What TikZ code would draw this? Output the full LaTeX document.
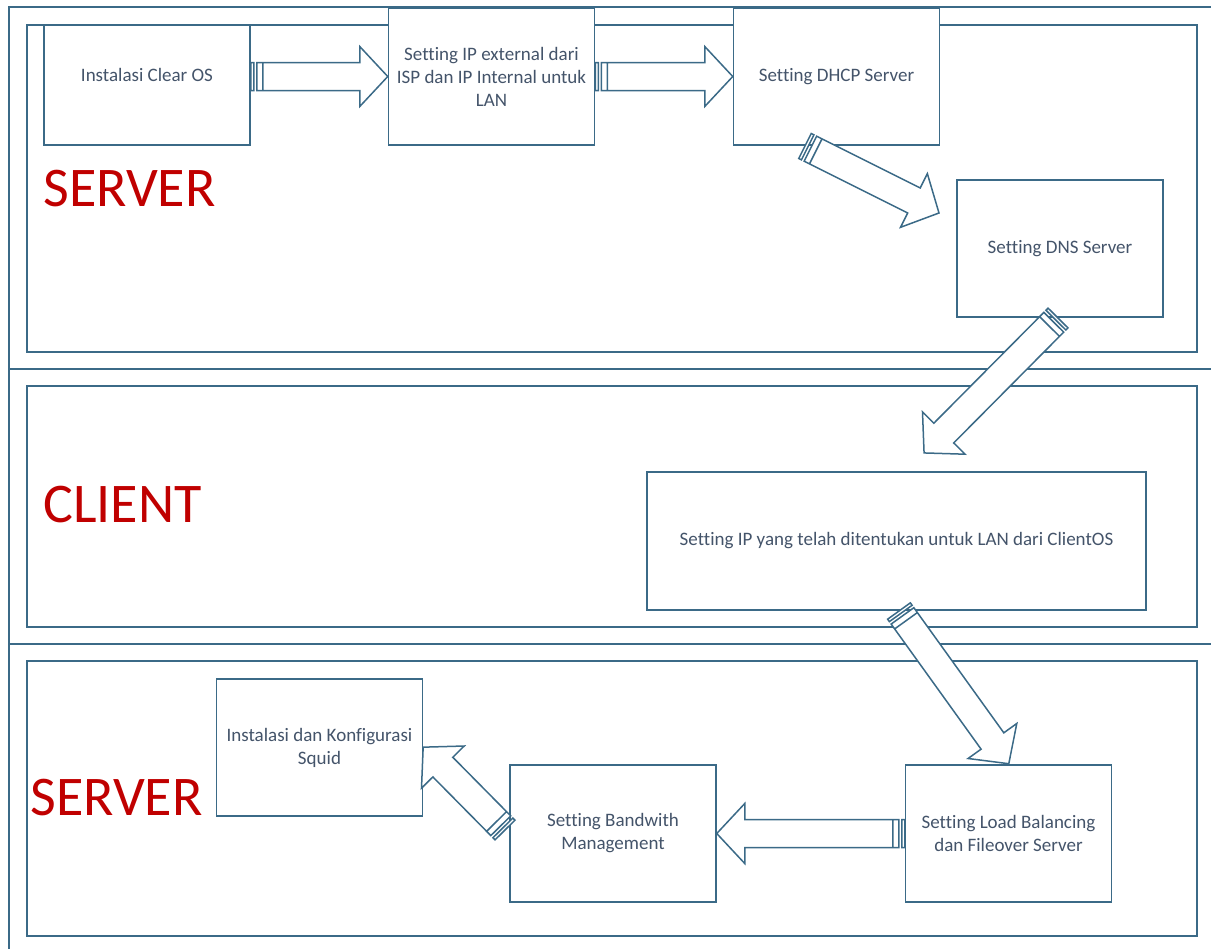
\documentclass[tikz,border=0pt]{standalone}
\usepackage{fontspec}
\setmainfont{Carlito}[Ligatures={NoCommon,NoContextual,NoRare}]
\usepackage{tikz}
\usetikzlibrary{calc, positioning}
\definecolor{lineColor}{HTML}{3B6A87}
\definecolor{textColor}{HTML}{44546A}
\definecolor{laneColor}{HTML}{C00000}

\tikzset{
  stepbox/.style={rectangle, draw=lineColor, line width=0.75pt, fill=white, text=textColor,
    align=center, font=\fontsize{9.5}{11.5}\selectfont, inner sep=2pt,
    minimum width=103pt, minimum height=68.5pt},
  laneframe/.style={draw=lineColor, line width=0.9pt},
  lanelabel/.style={text=laneColor, font=\fontsize{28}{32}\selectfont, anchor=west, inner sep=0pt},
  blockarrow/.style={draw=lineColor, line width=0.75pt, fill=white, line join=miter}
}

% striped block arrow from #1 to #2
\newcommand{\stripedarrow}[2]{%
  \draw[blockarrow] let \p1=($(#2)-(#1)$), \n1={atan2(\y1,\x1)}, \n2={veclen(\x1,\y1)} in
    [shift={(#1)}, rotate=\n1]
    (0pt,-7pt) rectangle (1.5pt,7pt)
    (3pt,-7pt) rectangle (6pt,7pt)
    (6pt,-7pt) -- ({\n2*1pt-14pt},-7pt) -- ({\n2*1pt-14pt},-15pt) -- ({\n2*1pt},0pt)
    -- ({\n2*1pt-14pt},15pt) -- ({\n2*1pt-14pt},7pt) -- (6pt,7pt) -- cycle;
}

\begin{document}
\begin{tikzpicture}[x=0.5pt, y=-0.5pt]
  \useasboundingbox (0,0) rectangle (1211,949);

  % outer lines and lanes
  \draw[laneframe] (1211,7) -- (9,7) -- (9,949);
  \draw[laneframe] (9,369) -- (1211,369);
  \draw[laneframe] (9,644) -- (1211,644);
  \draw[laneframe] (27,25) rectangle (1197,352);
  \draw[laneframe] (27,386) rectangle (1197,627);
  \draw[laneframe] (27,661) rectangle (1197,936);

  \node[lanelabel] (server1) at (43,189) {SERVER};
  \node[lanelabel] (client) at (43,505) {CLIENT};
  \node[lanelabel] (server2) at (30,798) {SERVER};

  % steps
  \node[stepbox, minimum height=60pt] (inst) at (147,85) {\raisebox{5pt}[\height][\depth]{Instalasi Clear OS}};
  \node[stepbox] (ipset) at (491.5,76.5) {Setting IP external dari\\ISP dan IP Internal untuk\\LAN};
  \node[stepbox] (dhcp) at (836.5,76.5) {Setting DHCP Server};
  \node[stepbox] (dns) at (1060,248.5) {Setting DNS Server};
  \node[stepbox, minimum width=249.5pt, minimum height=69pt] (clientip) at (896.5,541)
    {Setting IP yang telah ditentukan untuk LAN dari ClientOS};
  \node[stepbox] (lb) at (1008.5,833.5) {Setting Load Balancing\\dan Fileover Server};
  \node[stepbox] (bw) at (613,833.5) {Setting Bandwith\\Management};
  \node[stepbox] (squid) at (319.5,747.5) {Instalasi dan Konfigurasi\\Squid};

  % arrow ends
  \coordinate (inst-out) at (ipset.west -| inst.east);
  \coordinate (dhcp-out) at (805,146);
  \coordinate (dns-in) at (939,213);
  \coordinate (dns-out) at (1058,318);
  \coordinate (client-in) at (924,453);
  \coordinate (client-out) at (899,611);
  \coordinate (lb-in) at (1009,764);
  \coordinate (bw-out) at (505,830);
  \coordinate (squid-in) at (423,747);

  \stripedarrow{inst-out}{ipset.west}
  \stripedarrow{ipset.east}{dhcp.west}
  \stripedarrow{dhcp-out}{dns-in}
  \stripedarrow{dns-out}{client-in}
  \stripedarrow{client-out}{lb-in}
  \stripedarrow{lb.west}{bw.east}
  \stripedarrow{bw-out}{squid-in}
\end{tikzpicture}
\end{document}
